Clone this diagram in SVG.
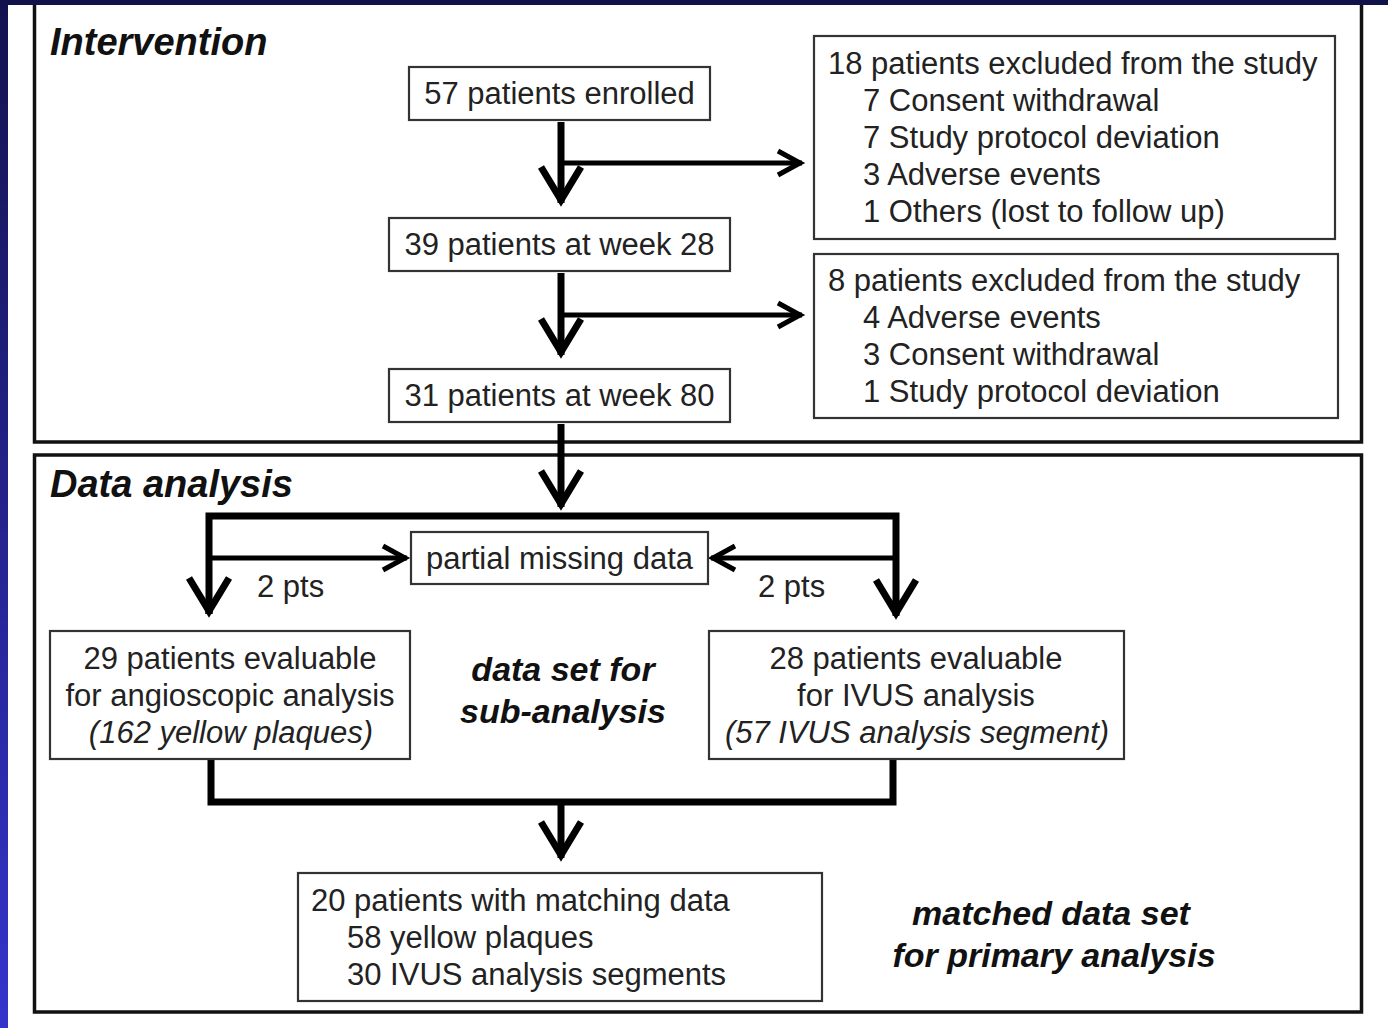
<svg xmlns="http://www.w3.org/2000/svg" width="1388" height="1028" viewBox="0 0 1388 1028">
<style>
.t{font-family:"Liberation Sans",Arial,sans-serif;font-size:31px;fill:#222}
.c{text-anchor:middle}
.i{font-style:italic}
.h{font-family:"Liberation Sans",Arial,sans-serif;font-weight:bold;font-style:italic;fill:#111}
.box{fill:#fff;stroke:#333;stroke-width:2.2}
.frame{fill:none;stroke:#111;stroke-width:3.5}
.big{fill:none;stroke:#000;stroke-width:7}
.thin{fill:none;stroke:#000;stroke-width:5}
</style>
<defs>
<linearGradient id="side" x1="0" y1="0" x2="0" y2="1">
<stop offset="0" stop-color="#14124e"/>
<stop offset="1" stop-color="#3434cc"/>
</linearGradient>
<marker id="bigHead" markerUnits="userSpaceOnUse" viewBox="-45 -30 55 60" refX="0" refY="0" markerWidth="55" markerHeight="60" orient="auto" overflow="visible">
<path d="M-36,-20 L-3,0 L-36,20" fill="none" stroke="#000" stroke-width="7" stroke-linejoin="miter"/>
</marker>
<marker id="smallHead" markerUnits="userSpaceOnUse" viewBox="-35 -20 40 40" refX="0" refY="0" markerWidth="40" markerHeight="40" orient="auto" overflow="visible">
<path d="M-24,-12 L-2,0 L-24,12" fill="none" stroke="#000" stroke-width="5" stroke-linejoin="miter"/>
</marker>
</defs>
<rect x="0" y="0" width="1388" height="1028" fill="#fff"/>

<g id="frame-intervention">
<rect class="frame" x="34.5" y="2" width="1327" height="440"/>
<text class="h" x="50" y="55" font-size="38">Intervention</text>
</g>
<g id="frame-analysis">
<rect class="frame" x="34.5" y="455" width="1327" height="557"/>
<text class="h" x="50" y="497" font-size="38">Data analysis</text>
</g>

<g id="connectors">
<line class="big" x1="561" y1="122" x2="561" y2="203" marker-end="url(#bigHead)"/>
<line class="thin" x1="561" y1="163" x2="802" y2="163" marker-end="url(#smallHead)"/>
<line class="big" x1="561" y1="273" x2="561" y2="355" marker-end="url(#bigHead)"/>
<line class="thin" x1="561" y1="315" x2="802" y2="315" marker-end="url(#smallHead)"/>
<line class="big" x1="561" y1="424" x2="561" y2="507" marker-end="url(#bigHead)"/>
<path class="big" d="M209,614 V516 H896 V614"/>
<line class="big" x1="209" y1="600" x2="209" y2="614" marker-end="url(#bigHead)"/>
<line class="big" x1="896" y1="600" x2="896" y2="616" marker-end="url(#bigHead)"/>
<line class="thin" x1="209" y1="558" x2="407" y2="558" marker-end="url(#smallHead)"/>
<line class="thin" x1="896" y1="558" x2="711" y2="558" marker-end="url(#smallHead)"/>
<path class="big" d="M211,759 V802 H893 V759"/>
<line class="big" x1="561" y1="802" x2="561" y2="858" marker-end="url(#bigHead)"/>
</g>

<g id="n-enrolled">
<rect class="box" x="409" y="67" width="301" height="53"/>
<text class="t c" x="559.5" y="104">57 patients enrolled</text>
</g>
<g id="n-week28">
<rect class="box" x="389" y="218" width="341" height="53"/>
<text class="t c" x="559.5" y="255">39 patients at week 28</text>
</g>
<g id="n-week80">
<rect class="box" x="389" y="369" width="341" height="53"/>
<text class="t c" x="559.5" y="406">31 patients at week 80</text>
</g>
<g id="n-excluded18">
<rect class="box" x="814" y="36" width="521" height="203"/>
<text class="t" x="828" y="74">18 patients excluded from the study</text>
<text class="t" x="863" y="111">7 Consent withdrawal</text>
<text class="t" x="863" y="148">7 Study protocol deviation</text>
<text class="t" x="863" y="185">3 Adverse events</text>
<text class="t" x="863" y="222">1 Others (lost to follow up)</text>
</g>
<g id="n-excluded8">
<rect class="box" x="814" y="254" width="524" height="164"/>
<text class="t" x="828" y="291">8 patients excluded from the study</text>
<text class="t" x="863" y="328">4 Adverse events</text>
<text class="t" x="863" y="365">3 Consent withdrawal</text>
<text class="t" x="863" y="402">1 Study protocol deviation</text>
</g>
<g id="n-missing">
<rect class="box" x="411" y="532" width="297" height="52"/>
<text class="t c" x="559.5" y="569">partial missing data</text>
</g>
<g id="l-2pts-left"><text class="t" x="257" y="597">2 pts</text></g>
<g id="l-2pts-right"><text class="t" x="758" y="597">2 pts</text></g>
<g id="n-angio">
<rect class="box" x="50" y="631" width="360" height="128"/>
<text class="t c" x="230" y="669">29 patients evaluable</text>
<text class="t c" x="230" y="706">for angioscopic analysis</text>
<text class="t c i" x="231" y="743">(162 yellow plaques)</text>
</g>
<g id="l-subanalysis">
<text class="h c" x="563" y="681" font-size="34">data set for</text>
<text class="h c" x="563" y="723" font-size="34">sub-analysis</text>
</g>
<g id="n-ivus">
<rect class="box" x="709" y="631" width="415" height="128"/>
<text class="t c" x="916" y="669">28 patients evaluable</text>
<text class="t c" x="916" y="706">for IVUS analysis</text>
<text class="t c i" x="917" y="743">(57 IVUS analysis segment)</text>
</g>
<g id="n-matched">
<rect class="box" x="298" y="873" width="524" height="128"/>
<text class="t" x="311" y="911">20 patients with matching data</text>
<text class="t" x="347" y="948">58 yellow plaques</text>
<text class="t" x="347" y="985">30 IVUS analysis segments</text>
</g>
<g id="l-primary">
<text class="h c" x="1051" y="925" font-size="34">matched data set</text>
<text class="h c" x="1054" y="967" font-size="34">for primary analysis</text>
</g>

<g id="background-edge">
<rect x="0" y="0" width="1388" height="5" fill="#12124a"/>
<rect x="0" y="0" width="8" height="1028" fill="url(#side)"/>
</g>
</svg>
